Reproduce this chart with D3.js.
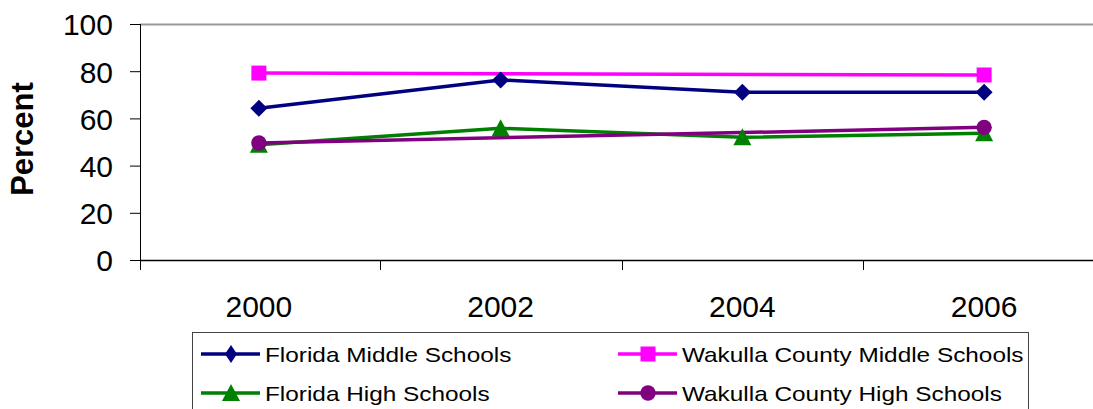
<!DOCTYPE html>
<html><head><meta charset="utf-8">
<script src="https://cdn.jsdelivr.net/npm/d3@7"></script>
<style>body{margin:0;background:#fff}svg{display:block}</style>
</head><body>
<svg id="c" width="1093" height="409"></svg>
<script>
const years = ["2000","2002","2004","2006"];
const yTicks = [0,20,40,60,80,100];
const floridaMiddle = [64.3, 76.3, 71.1, 71.1];
const wakullaMiddle = [79.2, null, null, 78.4];
const floridaHigh = [48.8, 55.8, 52.0, 53.7];
const wakullaHigh = [49.6, null, null, 56.2];
const seriesNames = ["Florida Middle Schools","Wakulla County Middle Schools","Florida High Schools","Wakulla County High Schools"];
const seriesColors = ["#000080","#FF00FF","#008000","#800080"];
const seriesShapes = ["diamond","square","triangle","circle"];
const seriesValues = [floridaMiddle, wakullaMiddle, floridaHigh, wakullaHigh];

(function(){
const svg = d3.select("#c");
const pLeft = 138, pRight = 1105, pTop = 24, pBottom = 260;
const x = d3.scaleBand().domain(years).range([pLeft, pRight]);
const y = d3.scaleLinear().domain([0,100]).range([pBottom, pTop]);
const font = "Liberation Sans, Arial, sans-serif";
const axisX = 140;

svg.append("line").attr("x1",axisX).attr("x2",1093).attr("y1",pTop+0.5).attr("y2",pTop+0.5)
  .attr("stroke","#999").attr("stroke-width",2);

const ya = svg.append("g").attr("transform",`translate(${axisX},0)`)
  .call(d3.axisLeft(y).tickValues(yTicks).tickSize(10).tickPadding(17));
ya.select(".domain").attr("stroke","#000").attr("d",`M0.5,${pTop}V${pBottom+10}`);
ya.selectAll(".tick line").attr("stroke","#000");
ya.selectAll("text").attr("font-family",font).attr("font-size",30).attr("fill","#000").attr("dy","0.36em");

const xa = svg.append("g").attr("transform",`translate(0,${pBottom})`)
  .call(d3.axisBottom(x).tickSize(0));
xa.select(".domain").attr("stroke","#000").attr("d",`M${axisX},0.5H1093`).attr("stroke-width",1.5);
xa.selectAll("text").attr("font-family",font).attr("font-size",30).attr("fill","#000")
  .attr("y",57).attr("dy",null);
const bounds = years.slice(1).map(d=>x(d));
svg.append("g").selectAll("line").data(bounds).join("line")
  .attr("x1",d=>Math.round(d)+0.5).attr("x2",d=>Math.round(d)+0.5).attr("y1",pBottom).attr("y2",pBottom+10).attr("stroke","#000");

svg.append("text").attr("transform","translate(33,139) rotate(-90)")
  .attr("text-anchor","middle").attr("font-family",font).attr("font-weight","bold")
  .attr("font-size",31).attr("fill","#000").text("Percent");

function shapePath(shape, legend){
  switch(shape){
    case "diamond": { const w = legend?6:8.5, h = legend?9:8.5; return `M0,${-h}L${w},0L0,${h}L${-w},0Z`; }
    case "square": return "M-7.5,-7.5H7.5V7.5H-7.5Z";
    case "triangle": return "M0,-9L9,8H-9Z";
    case "circle": return d3.symbol().type(d3.symbolCircle).size(Math.PI*7.7*7.7)();
  }
}

const line = d3.line().x(d=>x(d.year)+x.bandwidth()/2).y(d=>y(d.v));
[0,1,2,3].forEach(i=>{
  const pts = years.map((yr,j)=>({year:yr, v:seriesValues[i][j]})).filter(d=>d.v!=null);
  svg.append("path").attr("d",line(pts)).attr("fill","none")
    .attr("stroke",seriesColors[i]).attr("stroke-width",3.5);
});
[0,1,2,3].forEach(i=>{
  const pts = years.map((yr,j)=>({year:yr, v:seriesValues[i][j]})).filter(d=>d.v!=null);
  svg.append("g").selectAll("path").data(pts).join("path")
    .attr("d",shapePath(seriesShapes[i], false))
    .attr("transform",d=>`translate(${x(d.year)+x.bandwidth()/2},${y(d.v)})`)
    .attr("fill",seriesColors[i]);
});

svg.append("rect").attr("x",192.5).attr("y",332.5).attr("width",836).attr("height",90)
  .attr("fill","#fff").attr("stroke","#444").attr("stroke-width",1);
const lx = [201, 618], ly = [354, 393];
seriesNames.forEach((n,i)=>{
  const cx = lx[i%2], cy = ly[Math.floor(i/2)];
  const g = svg.append("g");
  g.append("line").attr("x1",cx).attr("x2",cx+59).attr("y1",cy).attr("y2",cy)
    .attr("stroke",seriesColors[i]).attr("stroke-width",3.5);
  g.append("path").attr("d",shapePath(seriesShapes[i], true))
    .attr("transform",`translate(${cx+30},${cy})`).attr("fill",seriesColors[i]);
  g.append("text").attr("transform",`translate(${cx+64},${cy+7.5}) scale(1.16,1)`)
    .attr("font-family",font).attr("font-size",21).attr("fill","#000").text(n);
});
})();
</script>
</body></html>
